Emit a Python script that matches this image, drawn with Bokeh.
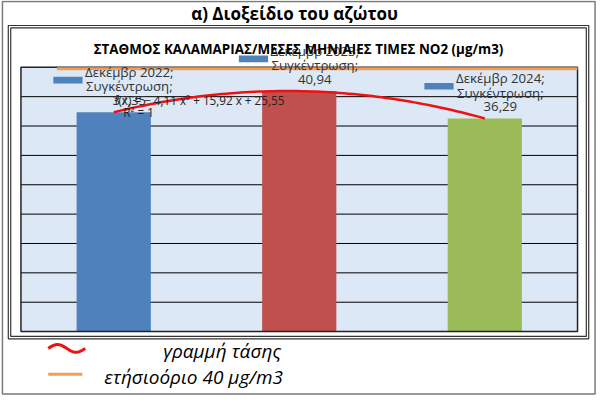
import numpy as np
from bokeh.plotting import figure
from bokeh.models import Range1d, Label
from bokeh.embed import file_html
from bokeh.resources import INLINE

# ---------------- data ----------------
TITLE = "α) Διοξείδιο του αζώτου"
CHART_TITLE = "ΣΤΑΘΜΟΣ ΚΑΛΑΜΑΡΙΑΣ/ΜΕΣΕΣ ΜΗΝΙΑΙΕΣ ΤΙΜΕΣ ΝΟ2 (μg/m3)"
CATEGORIES = ["Δεκέμβρ 2022", "Δεκέμβρ 2023", "Δεκέμβρ 2024"]
SERIES_NAME = "Συγκέντρωση"
VALUES = [37.35, 40.94, 36.29]
VALUE_LABELS = ["37,35", "40,94", "36,29"]
BAR_COLORS = ["#4f81bd", "#c0504d", "#9bbb59"]
LIMIT_LINE_LEVEL = 44.75          # where the orange limit line is drawn
TREND_EQ = "f(x) = − 4,11 x² + 15,92 x + 25,55"
TREND_R2 = "R² = 1"
LEGEND_TREND = "γραμμή τάσης"
LEGEND_LIMIT = "ετήσιοόριο 40 μg/m3"
Y_MAX = 45
Y_STEP = 5

FONT = "Open Sans"

# ---------------- layout ----------------
FW, FH = 597, 395               # figure size
RW, RH = 613, 411               # design canvas
SX, SY = FW / RW, FH / RH
PL, PR = 21, 592.5              # plot area left/right (design px)
PT, PB = 69.5, 344.5            # plot area top/bottom (design px)
XR = (0.5, 3.5)

def dx(px):
    return XR[0] + (px - PL) * (XR[1] - XR[0]) / (PR - PL)

def ux(px):
    return px * (XR[1] - XR[0]) / (PR - PL)

def dy(py):
    return (PB - py) * Y_MAX / (PB - PT)

def uy(px):
    return px * Y_MAX / (PB - PT)

def fs(px):
    return f"{px * SX:.1f}px"

p = figure(width=FW, height=FH, output_backend="svg", toolbar_location=None,
           x_range=Range1d(dx(0), dx(RW)), y_range=Range1d(dy(RH), dy(0)),
           min_border=0)
p.axis.visible = False
p.grid.visible = False
p.outline_line_color = None
p.background_fill_color = "white"
p.border_fill_color = "white"

# outer picture border
p.quad(left=[dx(2)], right=[dx(610.5)], top=[dy(1)], bottom=[dy(409.5)],
       fill_color=None, line_color="#7a7a7a", line_width=1.5)

# double frame around the chart
for (l, t, r, b) in [(8, 26, 604, 352), (10.5, 28.5, 601.5, 349.5)]:
    p.quad(left=[dx(l)], right=[dx(r)], top=[dy(t)], bottom=[dy(b)],
           fill_color=None, line_color="#333333", line_width=1.2)

# plot area
p.quad(left=[XR[0]], right=[XR[1]], bottom=[0], top=[Y_MAX],
       fill_color="#dce8f6", line_color=None)
grid_vals = np.arange(Y_STEP, Y_MAX, Y_STEP)
p.segment(x0=XR[0], x1=XR[1], y0=grid_vals, y1=grid_vals, line_color="black", line_width=1)

xs = list(range(1, len(CATEGORIES) + 1))
p.vbar(x=xs, top=VALUES, width=0.4, bottom=0, fill_color=BAR_COLORS, line_color=None)

p.quad(left=[XR[0]], right=[XR[1]], bottom=[0], top=[Y_MAX],
       fill_color=None, line_color="#222222", line_width=1.5)

# limit line
p.segment(x0=[dx(58)], x1=[XR[1]], y0=[LIMIT_LINE_LEVEL], y1=[LIMIT_LINE_LEVEL],
          line_color="#f59d56", line_width=3)

# trend line (quadratic fit, as in the chart)
coef = np.polyfit(xs, VALUES, 2)
tx = np.linspace(xs[0], xs[-1], 80)
p.line(tx, np.polyval(coef, tx), line_color="#ee1111", line_width=2.5)

# data labels with legend keys
for x, v, cat, vl in zip(xs, VALUES, CATEGORIES, VALUE_LABELS):
    cx = x + ux(16)
    p.quad(left=[x - ux(62)], right=[x - ux(32)], top=[v + uy(37)], bottom=[v + uy(30)],
           fill_color="#4f81bd", line_color=None)
    for k, t in enumerate([cat + ";", SERIES_NAME + ";", vl]):
        p.add_layout(Label(x=cx, y=v + uy(12 + 15 * (2 - k)), text=t, text_font=FONT,
                           text_font_size=fs(13.6), text_color="#333333",
                           text_align="center", text_baseline="middle"))

# trend equation
p.add_layout(Label(x=dx(117), y=dy(104), text=TREND_EQ, text_font=FONT,
                   text_font_size=fs(12), text_color="#222222",
                   text_align="left", text_baseline="middle"))
p.add_layout(Label(x=dx(126), y=dy(116), text=TREND_R2, text_font=FONT,
                   text_font_size=fs(12), text_color="#222222",
                   text_align="left", text_baseline="middle"))

# titles
p.add_layout(Label(x=dx(302), y=dy(14), text=TITLE, text_font=FONT,
                   text_font_size=fs(17.5), text_font_style="bold", text_color="black",
                   text_align="center", text_baseline="middle"))
p.add_layout(Label(x=dx(306), y=dy(50), text=CHART_TITLE, text_font=FONT,
                   text_font_size=fs(13.8), text_font_style="bold", text_color="black",
                   text_align="center", text_baseline="middle"))

# legend below the chart
t = np.linspace(0, 1, 40)
p.line([dx(v) for v in 49 + 38 * t], [dy(v) for v in 362 - 4 * np.sin(2 * np.pi * t)],
       line_color="#ee1111", line_width=3)
p.segment(x0=[dx(49)], x1=[dx(84)], y0=[dy(389)], y1=[dy(389)],
          line_color="#f59d56", line_width=3)
p.add_layout(Label(x=dx(288), y=dy(365), text=LEGEND_TREND, text_font=FONT,
                   text_font_size=fs(19.5), text_font_style="italic", text_align="right",
                   text_baseline="middle", text_color="black"))
p.add_layout(Label(x=dx(290), y=dy(392), text=LEGEND_LIMIT, text_font=FONT,
                   text_font_size=fs(19.5), text_font_style="italic", text_align="right",
                   text_baseline="middle", text_color="black"))

open("out.html", "w").write(file_html(p, INLINE))
